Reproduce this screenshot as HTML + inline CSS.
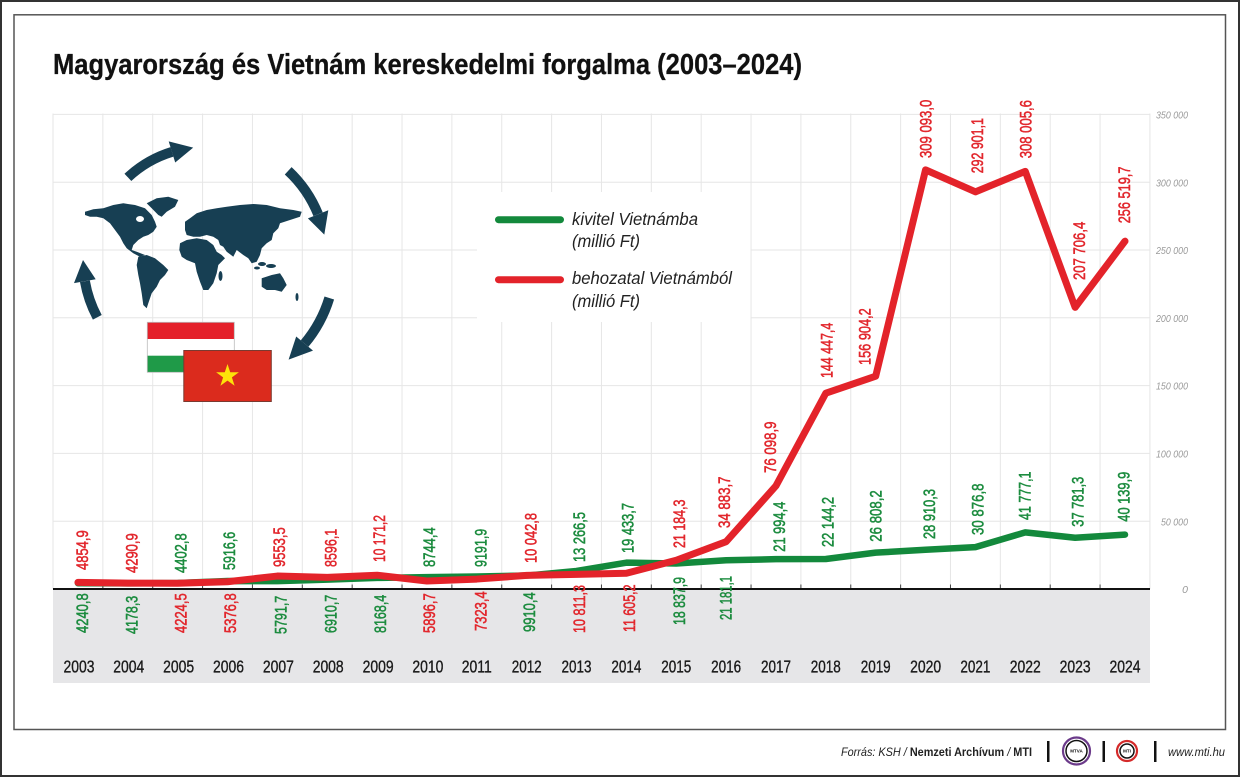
<!DOCTYPE html>
<html><head><meta charset="utf-8">
<style>
html,body{margin:0;padding:0;background:#fff;}
svg{display:block;}
text{font-family:"Liberation Sans",sans-serif;}
</style></head>
<body>
<svg width="1240" height="777" viewBox="0 0 1240 777" xmlns="http://www.w3.org/2000/svg">
<rect x="0" y="0" width="1240" height="777" fill="#fff"/>
<rect x="1" y="1" width="1238" height="775" fill="none" stroke="#333" stroke-width="2"/>
<rect x="14" y="14.8" width="1211.5" height="714.7" fill="none" stroke="#555" stroke-width="1.5"/>

<text x="53" y="74" font-size="28.5" font-weight="bold" fill="#111" stroke="#111" stroke-width="0.3" textLength="749" lengthAdjust="spacingAndGlyphs">Magyarország és Vietnám kereskedelmi forgalma (2003–2024)</text>

<rect x="53" y="590" width="1097" height="93" fill="#e6e6e8"/>

<g stroke="#e6e6e6" stroke-width="1">
<line x1="53" y1="113.5" x2="53" y2="589"/>
<line x1="102.86" y1="113.5" x2="102.86" y2="589"/>
<line x1="152.72" y1="113.5" x2="152.72" y2="589"/>
<line x1="202.58" y1="113.5" x2="202.58" y2="589"/>
<line x1="252.44" y1="113.5" x2="252.44" y2="589"/>
<line x1="302.3" y1="113.5" x2="302.3" y2="589"/>
<line x1="352.16" y1="113.5" x2="352.16" y2="589"/>
<line x1="402.02" y1="113.5" x2="402.02" y2="589"/>
<line x1="451.88" y1="113.5" x2="451.88" y2="589"/>
<line x1="501.74" y1="113.5" x2="501.74" y2="589"/>
<line x1="551.6" y1="113.5" x2="551.6" y2="589"/>
<line x1="601.46" y1="113.5" x2="601.46" y2="589"/>
<line x1="651.32" y1="113.5" x2="651.32" y2="589"/>
<line x1="701.18" y1="113.5" x2="701.18" y2="589"/>
<line x1="751.04" y1="113.5" x2="751.04" y2="589"/>
<line x1="800.9" y1="113.5" x2="800.9" y2="589"/>
<line x1="850.76" y1="113.5" x2="850.76" y2="589"/>
<line x1="900.62" y1="113.5" x2="900.62" y2="589"/>
<line x1="950.48" y1="113.5" x2="950.48" y2="589"/>
<line x1="1000.34" y1="113.5" x2="1000.34" y2="589"/>
<line x1="1050.2" y1="113.5" x2="1050.2" y2="589"/>
<line x1="1100.06" y1="113.5" x2="1100.06" y2="589"/>
<line x1="1149.92" y1="113.5" x2="1149.92" y2="589"/>
<line x1="53" y1="114.4" x2="1150" y2="114.4"/>
<line x1="53" y1="182.2" x2="1150" y2="182.2"/>
<line x1="53" y1="250" x2="1150" y2="250"/>
<line x1="53" y1="317.8" x2="1150" y2="317.8"/>
<line x1="53" y1="385.6" x2="1150" y2="385.6"/>
<line x1="53" y1="453.4" x2="1150" y2="453.4"/>
<line x1="53" y1="521.2" x2="1150" y2="521.2"/>
</g>

<g font-size="10.5" font-style="italic" fill="#9a9a9a" text-anchor="end">
<text x="1188" y="118.5" textLength="32" lengthAdjust="spacingAndGlyphs">350 000</text>
<text x="1188" y="186.3" textLength="32" lengthAdjust="spacingAndGlyphs">300 000</text>
<text x="1188" y="254.1" textLength="32" lengthAdjust="spacingAndGlyphs">250 000</text>
<text x="1188" y="321.9" textLength="32" lengthAdjust="spacingAndGlyphs">200 000</text>
<text x="1188" y="389.7" textLength="32" lengthAdjust="spacingAndGlyphs">150 000</text>
<text x="1188" y="457.5" textLength="32" lengthAdjust="spacingAndGlyphs">100 000</text>
<text x="1188" y="525.3" textLength="27" lengthAdjust="spacingAndGlyphs">50 000</text>
<text x="1188" y="593">0</text>
</g>

<rect x="477" y="192" width="273.5" height="130" fill="#fff"/>
<line x1="498.5" y1="219.7" x2="560.5" y2="219.7" stroke="#13893c" stroke-width="7" stroke-linecap="round"/>
<line x1="498.5" y1="279.7" x2="560.5" y2="279.7" stroke="#e3232a" stroke-width="7" stroke-linecap="round"/>
<g font-size="17.5" font-style="italic" fill="#222">
<text x="572" y="225" textLength="126" lengthAdjust="spacingAndGlyphs">kivitel Vietnámba</text>
<text x="572" y="247" textLength="68" lengthAdjust="spacingAndGlyphs">(millió Ft)</text>
<text x="572" y="284" textLength="160" lengthAdjust="spacingAndGlyphs">behozatal Vietnámból</text>
<text x="572" y="307" textLength="68" lengthAdjust="spacingAndGlyphs">(millió Ft)</text>
</g>

<g fill="#173f53">
<path d="M127.9,177.4 A113,113 0 0 1 172.0,151.9" fill="none" stroke="#173f53" stroke-width="10"/>
<polygon points="168.7,141.4 175.2,162.5 193.2,147.6"/>
<path d="M288.2,170.8 A122,122 0 0 1 318.1,214.3" fill="none" stroke="#173f53" stroke-width="10"/>
<polygon points="328.3,210.2 307.9,218.4 324.3,234.6"/>
<path d="M329.3,298.0 A130,130 0 0 1 304.6,343.6" fill="none" stroke="#173f53" stroke-width="10"/>
<polygon points="313.0,350.6 296.2,336.5 288.6,359.6"/>
<path d="M97.3,317.3 A122,122 0 0 1 84.9,281.2" fill="none" stroke="#173f53" stroke-width="10"/>
<polygon points="74.0,283.1 95.7,279.3 83,260"/>
</g>
<g fill="#173f53">
<polygon points="85,211.7 93.3,209.3 103.3,208.3 113.3,205 123.3,203.3 135,205 145,208.3 151.7,215 155,221.7 156.7,226.7 153.3,231.7 148.3,235 143.3,236.7 138.3,240 133.3,245 131.7,250 136.7,251.7 145,255 140,256.7 133.3,253.3 126.7,248.3 123.3,243.3 120,236.7 115,230 110,223.3 103.3,218.3 96.7,216.7 90,216.7 85,215"/>
<polygon points="146.7,203.3 156.7,198.3 168.3,196.7 178.3,200 175,206.7 166.7,211.7 161.7,216.7 158.3,215 151.7,208.3"/>
<polygon points="138.3,256.7 146.7,255 155,258.3 163.3,265 168.3,270 165,275 160,280 156.7,286.7 151.7,293.3 148.3,303.3 146.7,308.3 143.3,305 141.7,293.3 140,283.3 138.3,275 136.7,265"/>
<polygon points="185,221.7 190,218.3 196.7,213.3 206.7,210 216.7,208.3 226.7,206.7 240,205 253.3,204 266.7,205 280,208.3 293.3,210 301.7,211.7 300,216.7 290,220 280,223.3 278.3,228.3 273.3,233.3 271.7,240 266.7,243.3 261.7,248.3 260,255 256.7,261.7 251.7,263.3 248.3,258.3 243.3,255 236.7,250 233.3,256.7 226.7,251.7 223.3,246.7 220,245 218.3,240 213.3,236.7 206.7,235 200,236.7 193.3,236.7 186.7,235 185,230"/>
<polygon points="180,243.3 186.7,240 196.7,238.3 206.7,240 213.3,245 216.7,251.7 221.7,255 225,258.3 218.3,265 216.7,273.3 213.3,283.3 208.3,290 203.3,290 200,281.7 196.7,271.7 195,263.3 186.7,260 181.7,256.7 179.3,250"/>
<ellipse cx="220.5" cy="276" rx="2" ry="5"/>
<polygon points="261.7,278.3 271.7,275 280,273.3 283.3,278.3 286.7,285 281.7,291.7 275,290 266.7,290 261.7,286.7"/>
<ellipse cx="262" cy="264" rx="4" ry="2"/>
<ellipse cx="271" cy="266" rx="5" ry="2"/>
<ellipse cx="257" cy="268" rx="3" ry="1.5"/>
<ellipse cx="297" cy="297" rx="1.5" ry="4"/>
</g>
<ellipse cx="140" cy="219" rx="4" ry="3" fill="#fff"/>

<rect x="147.3" y="322.3" width="87" height="16.7" fill="#e4202a"/>
<rect x="147.3" y="339" width="87" height="16.7" fill="#fff"/>
<rect x="147.3" y="355.7" width="87" height="16.7" fill="#1f9a48"/>
<rect x="147.3" y="322.3" width="87" height="50" fill="none" stroke="#bbb" stroke-width="0.8"/>
<rect x="183.8" y="350.5" width="87.5" height="51" fill="#db2b1d" stroke="#7a3a30" stroke-width="1"/>
<polygon points="227.5,364 230.2,372.3 238.9,372.3 231.9,377.4 234.6,385.7 227.5,380.6 220.4,385.7 223.1,377.4 216.1,372.3 224.8,372.3" fill="#fde20a"/>

<g stroke="#444" stroke-width="1">
<line x1="102.86" y1="584.5" x2="102.86" y2="589"/>
<line x1="152.72" y1="584.5" x2="152.72" y2="589"/>
<line x1="202.58" y1="584.5" x2="202.58" y2="589"/>
<line x1="252.44" y1="584.5" x2="252.44" y2="589"/>
<line x1="302.3" y1="584.5" x2="302.3" y2="589"/>
<line x1="352.16" y1="584.5" x2="352.16" y2="589"/>
<line x1="402.02" y1="584.5" x2="402.02" y2="589"/>
<line x1="451.88" y1="584.5" x2="451.88" y2="589"/>
<line x1="501.74" y1="584.5" x2="501.74" y2="589"/>
<line x1="551.6" y1="584.5" x2="551.6" y2="589"/>
<line x1="601.46" y1="584.5" x2="601.46" y2="589"/>
<line x1="651.32" y1="584.5" x2="651.32" y2="589"/>
<line x1="701.18" y1="584.5" x2="701.18" y2="589"/>
<line x1="751.04" y1="584.5" x2="751.04" y2="589"/>
<line x1="800.9" y1="584.5" x2="800.9" y2="589"/>
<line x1="850.76" y1="584.5" x2="850.76" y2="589"/>
<line x1="900.62" y1="584.5" x2="900.62" y2="589"/>
<line x1="950.48" y1="584.5" x2="950.48" y2="589"/>
<line x1="1000.34" y1="584.5" x2="1000.34" y2="589"/>
<line x1="1050.2" y1="584.5" x2="1050.2" y2="589"/>
<line x1="1100.06" y1="584.5" x2="1100.06" y2="589"/>
</g>
<line x1="53" y1="589" x2="1150" y2="589" stroke="#111" stroke-width="2"/>

<polyline fill="none" stroke="#13893c" stroke-width="6.5" stroke-linejoin="round" stroke-linecap="round"
 points="77.93,583.25 127.79,583.33 177.65,583.03 227.51,580.98 277.37,581.15 327.23,579.63 377.09,577.92 426.95,577.14 476.81,576.54 526.67,575.56 576.53,571.01 626.39,562.65 676.25,563.46 726.11,560.28 775.97,559.18 825.83,558.97 875.69,552.65 925.55,549.80 975.41,547.13 1025.27,532.35 1075.13,537.77 1124.99,534.57"/>
<polyline fill="none" stroke="#e3232a" stroke-width="7" stroke-linejoin="round" stroke-linecap="round"
 points="77.93,582.42 127.79,583.18 177.65,583.27 227.51,581.71 277.37,576.05 327.23,577.34 377.09,575.21 426.95,581.0 476.81,579.07 526.67,575.38 576.53,574.34 626.39,573.26 676.25,560.27 726.11,541.70 775.97,485.81 825.83,393.13 875.69,376.24 925.55,169.87 975.41,191.83 1025.27,171.34 1075.13,307.35 1124.99,241.16"/>

<g font-size="17" fill="#e2272d" stroke="#e2272d" stroke-width="0.55">
<text transform="translate(88,570) rotate(-90)" textLength="39.75" lengthAdjust="spacingAndGlyphs">4854,9</text>
<text transform="translate(137.3,573) rotate(-90)" textLength="39.75" lengthAdjust="spacingAndGlyphs">4290,9</text>
<text transform="translate(186.7,633) rotate(-90)" textLength="39.75" lengthAdjust="spacingAndGlyphs">4224,5</text>
<text transform="translate(236,633) rotate(-90)" textLength="39.75" lengthAdjust="spacingAndGlyphs">5376,8</text>
<text transform="translate(285,567) rotate(-90)" textLength="39.75" lengthAdjust="spacingAndGlyphs">9553,5</text>
<text transform="translate(336.7,567) rotate(-90)" textLength="38.25" lengthAdjust="spacingAndGlyphs">8596,1</text>
<text transform="translate(385,562) rotate(-90)" textLength="47" lengthAdjust="spacingAndGlyphs">10 171,2</text>
<text transform="translate(435,633) rotate(-90)" textLength="39.75" lengthAdjust="spacingAndGlyphs">5896,7</text>
<text transform="translate(486.7,631) rotate(-90)" textLength="39.75" lengthAdjust="spacingAndGlyphs">7323,4</text>
<text transform="translate(536.7,563) rotate(-90)" textLength="50" lengthAdjust="spacingAndGlyphs">10 042,8</text>
<text transform="translate(585,633) rotate(-90)" textLength="48" lengthAdjust="spacingAndGlyphs">10 811,3</text>
<text transform="translate(635,632) rotate(-90)" textLength="47.5" lengthAdjust="spacingAndGlyphs">11 605,2</text>
<text transform="translate(685,548) rotate(-90)" textLength="48.5" lengthAdjust="spacingAndGlyphs">21 184,3</text>
<text transform="translate(730,528) rotate(-90)" textLength="51.5" lengthAdjust="spacingAndGlyphs">34 883,7</text>
<text transform="translate(776,473) rotate(-90)" textLength="51.5" lengthAdjust="spacingAndGlyphs">76 098,9</text>
<text transform="translate(832.7,378) rotate(-90)" textLength="55.25" lengthAdjust="spacingAndGlyphs">144 447,4</text>
<text transform="translate(870.7,365) rotate(-90)" textLength="56.75" lengthAdjust="spacingAndGlyphs">156 904,2</text>
<text transform="translate(931.7,158) rotate(-90)" textLength="58.25" lengthAdjust="spacingAndGlyphs">309 093,0</text>
<text transform="translate(983,173.3) rotate(-90)" textLength="55.25" lengthAdjust="spacingAndGlyphs">292 901,1</text>
<text transform="translate(1031.7,158.3) rotate(-90)" textLength="58.25" lengthAdjust="spacingAndGlyphs">308 005,6</text>
<text transform="translate(1085,280) rotate(-90)" textLength="58.25" lengthAdjust="spacingAndGlyphs">207 706,4</text>
<text transform="translate(1130,223.3) rotate(-90)" textLength="56.75" lengthAdjust="spacingAndGlyphs">256 519,7</text>
</g>
<g font-size="17" fill="#1c8c3f" stroke="#1c8c3f" stroke-width="0.55">
<text transform="translate(88,633) rotate(-90)" textLength="39.75" lengthAdjust="spacingAndGlyphs">4240,8</text>
<text transform="translate(137.3,634) rotate(-90)" textLength="38.25" lengthAdjust="spacingAndGlyphs">4178,3</text>
<text transform="translate(186.7,573) rotate(-90)" textLength="39.75" lengthAdjust="spacingAndGlyphs">4402,8</text>
<text transform="translate(235,570) rotate(-90)" textLength="38.25" lengthAdjust="spacingAndGlyphs">5916,6</text>
<text transform="translate(286.7,634) rotate(-90)" textLength="38.25" lengthAdjust="spacingAndGlyphs">5791,7</text>
<text transform="translate(336.7,633) rotate(-90)" textLength="38.25" lengthAdjust="spacingAndGlyphs">6910,7</text>
<text transform="translate(386,633) rotate(-90)" textLength="38.25" lengthAdjust="spacingAndGlyphs">8168,4</text>
<text transform="translate(435,567) rotate(-90)" textLength="39.75" lengthAdjust="spacingAndGlyphs">8744,4</text>
<text transform="translate(486.7,567) rotate(-90)" textLength="38.25" lengthAdjust="spacingAndGlyphs">9191,9</text>
<text transform="translate(535,632) rotate(-90)" textLength="39.75" lengthAdjust="spacingAndGlyphs">9910,4</text>
<text transform="translate(585,562) rotate(-90)" textLength="50" lengthAdjust="spacingAndGlyphs">13 266,5</text>
<text transform="translate(633.3,553) rotate(-90)" textLength="50" lengthAdjust="spacingAndGlyphs">19 433,7</text>
<text transform="translate(685,625) rotate(-90)" textLength="48" lengthAdjust="spacingAndGlyphs">18 837,9</text>
<text transform="translate(731.7,620) rotate(-90)" textLength="44" lengthAdjust="spacingAndGlyphs">21 181,1</text>
<text transform="translate(785,551.7) rotate(-90)" textLength="50" lengthAdjust="spacingAndGlyphs">21 994,4</text>
<text transform="translate(833.5,547) rotate(-90)" textLength="50" lengthAdjust="spacingAndGlyphs">22 144,2</text>
<text transform="translate(881.7,541.7) rotate(-90)" textLength="51.5" lengthAdjust="spacingAndGlyphs">26 808,2</text>
<text transform="translate(935,539) rotate(-90)" textLength="50" lengthAdjust="spacingAndGlyphs">28 910,3</text>
<text transform="translate(983.3,535) rotate(-90)" textLength="51.5" lengthAdjust="spacingAndGlyphs">30 876,8</text>
<text transform="translate(1030.7,520) rotate(-90)" textLength="48.5" lengthAdjust="spacingAndGlyphs">41 777,1</text>
<text transform="translate(1083.3,526.7) rotate(-90)" textLength="50" lengthAdjust="spacingAndGlyphs">37 781,3</text>
<text transform="translate(1129.3,521.7) rotate(-90)" textLength="50" lengthAdjust="spacingAndGlyphs">40 139,9</text>
</g>

<g font-size="17.5" fill="#1a1a1a" stroke="#1a1a1a" stroke-width="0.35" text-anchor="middle">
<text x="79" y="672.7" textLength="31" lengthAdjust="spacingAndGlyphs">2003</text>
<text x="128.8" y="672.7" textLength="31" lengthAdjust="spacingAndGlyphs">2004</text>
<text x="178.6" y="672.7" textLength="31" lengthAdjust="spacingAndGlyphs">2005</text>
<text x="228.5" y="672.7" textLength="31" lengthAdjust="spacingAndGlyphs">2006</text>
<text x="278.4" y="672.7" textLength="31" lengthAdjust="spacingAndGlyphs">2007</text>
<text x="328.2" y="672.7" textLength="31" lengthAdjust="spacingAndGlyphs">2008</text>
<text x="378.1" y="672.7" textLength="31" lengthAdjust="spacingAndGlyphs">2009</text>
<text x="427.9" y="672.7" textLength="31" lengthAdjust="spacingAndGlyphs">2010</text>
<text x="476.8" y="672.7" textLength="30" lengthAdjust="spacingAndGlyphs">2011</text>
<text x="526.7" y="672.7" textLength="30" lengthAdjust="spacingAndGlyphs">2012</text>
<text x="576.5" y="672.7" textLength="30" lengthAdjust="spacingAndGlyphs">2013</text>
<text x="626.4" y="672.7" textLength="30" lengthAdjust="spacingAndGlyphs">2014</text>
<text x="676.3" y="672.7" textLength="30" lengthAdjust="spacingAndGlyphs">2015</text>
<text x="726.1" y="672.7" textLength="30" lengthAdjust="spacingAndGlyphs">2016</text>
<text x="776" y="672.7" textLength="30" lengthAdjust="spacingAndGlyphs">2017</text>
<text x="825.8" y="672.7" textLength="30" lengthAdjust="spacingAndGlyphs">2018</text>
<text x="875.7" y="672.7" textLength="30" lengthAdjust="spacingAndGlyphs">2019</text>
<text x="925.6" y="672.7" textLength="31" lengthAdjust="spacingAndGlyphs">2020</text>
<text x="975.4" y="672.7" textLength="30" lengthAdjust="spacingAndGlyphs">2021</text>
<text x="1025.3" y="672.7" textLength="31" lengthAdjust="spacingAndGlyphs">2022</text>
<text x="1075.1" y="672.7" textLength="31" lengthAdjust="spacingAndGlyphs">2023</text>
<text x="1125" y="672.7" textLength="31" lengthAdjust="spacingAndGlyphs">2024</text>
</g>

<text x="841" y="756" font-size="12" fill="#222" textLength="191" lengthAdjust="spacingAndGlyphs"><tspan font-style="italic">Forrás: KSH / </tspan><tspan font-weight="bold">Nemzeti Archívum</tspan><tspan font-style="italic"> / </tspan><tspan font-weight="bold">MTI</tspan></text>
<rect x="1047" y="741" width="2.5" height="21" fill="#111"/>
<rect x="1102.5" y="741" width="2.5" height="21" fill="#111"/>
<rect x="1154" y="741" width="2.5" height="21" fill="#111"/>
<circle cx="1076.5" cy="751" r="13.5" fill="#fff" stroke="#6b3a8a" stroke-width="2.2"/>
<circle cx="1076.5" cy="751" r="10.5" fill="#fff" stroke="#111" stroke-width="1.5"/>
<text x="1076.5" y="752.5" font-size="4.5" font-weight="bold" fill="#111" text-anchor="middle">MTVA</text>
<circle cx="1127" cy="751" r="10" fill="#fff" stroke="#d42a2a" stroke-width="2.2"/>
<circle cx="1127" cy="751" r="7" fill="#fff" stroke="#111" stroke-width="1.5"/>
<text x="1127" y="752.5" font-size="4.5" font-weight="bold" fill="#111" text-anchor="middle">MTI</text>
<text x="1168" y="756" font-size="12" font-style="italic" fill="#222" textLength="57" lengthAdjust="spacingAndGlyphs">www.mti.hu</text>
</svg>
</body></html>
